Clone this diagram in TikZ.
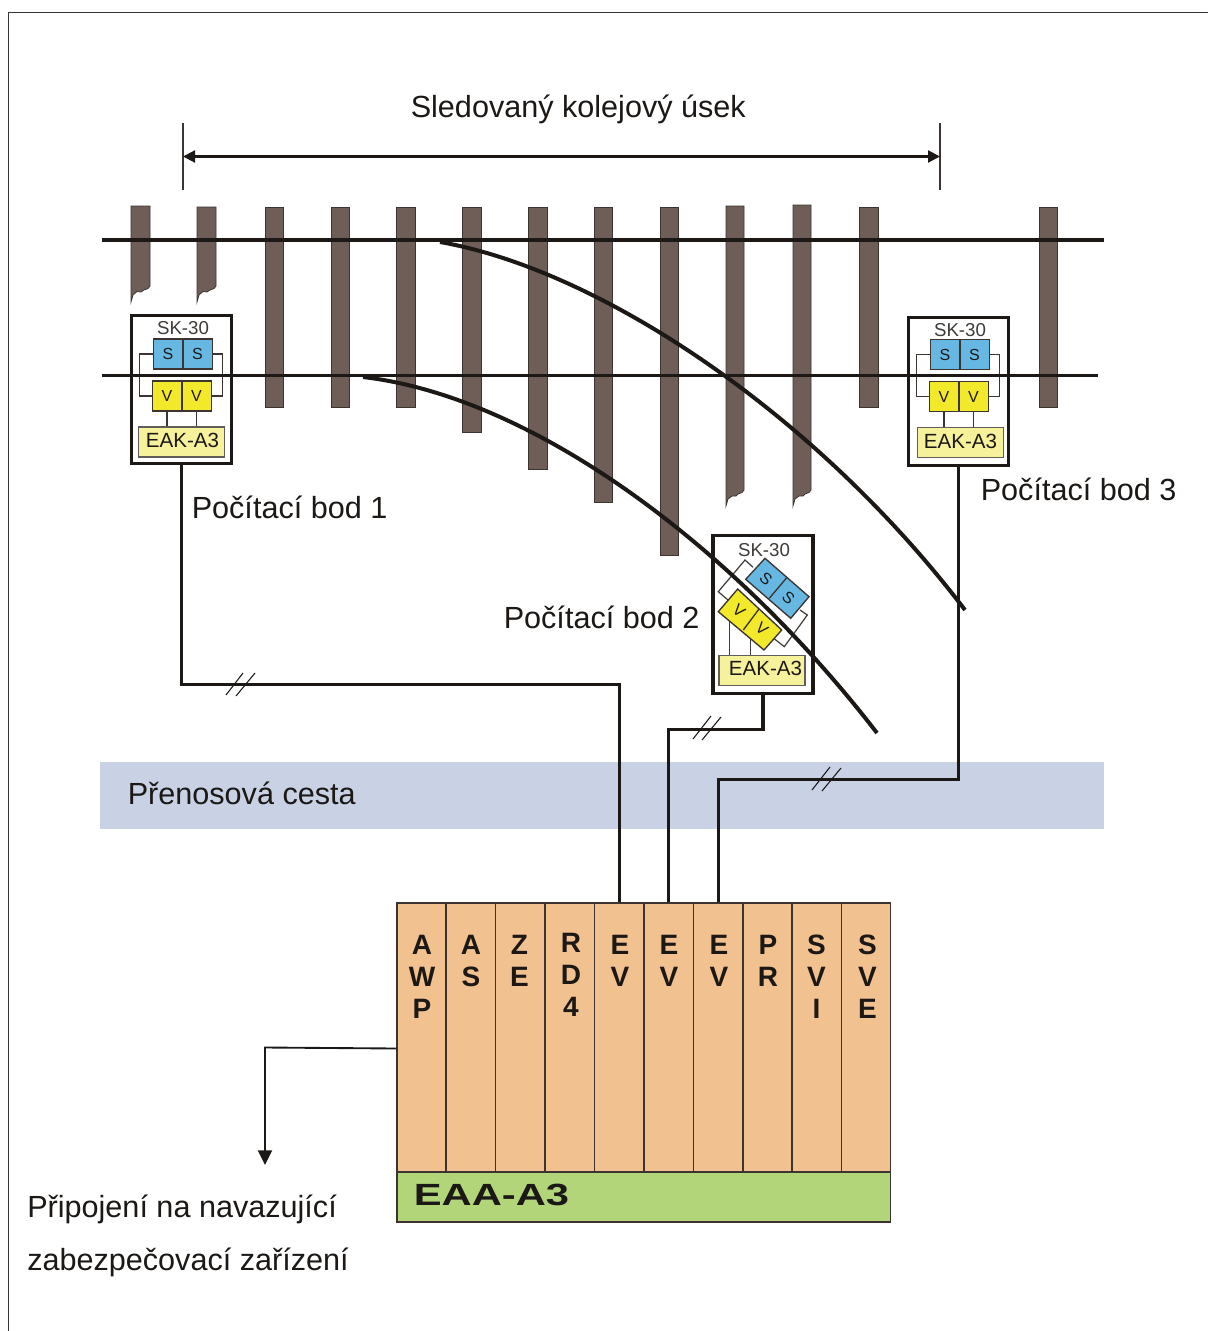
\documentclass[tikz,border=0pt]{standalone}
\usepackage{fontspec}
\setmainfont{Liberation Sans}
\usetikzlibrary{arrows.meta}
\definecolor{tiefill}{HTML}{6E5E57}
\definecolor{tieedge}{HTML}{3B3431}
\definecolor{ink}{HTML}{1C1815}
\definecolor{sblue}{HTML}{67B7E3}
\definecolor{vyellow}{HTML}{F1E92A}
\definecolor{eakyellow}{HTML}{F6F19B}
\definecolor{band}{HTML}{C9D2E5}
\definecolor{slotor}{HTML}{F2C190}
\definecolor{slotgr}{HTML}{B2D57A}
\tikzset{
  tie/.style={fill=tiefill,draw=tieedge,line width=0.6pt},
  rail/.style={draw=ink,line width=2.6pt},
  curverail/.style={draw=ink,line width=3pt},
  wire/.style={draw=ink,line width=2.3pt},
  thinwire/.style={draw=tieedge,line width=0.9pt},
  hatch/.style={draw=ink,line width=0.8pt},
  bigtext/.style={anchor=base west,inner sep=0pt,font=\fontsize{22.95}{26}\selectfont,text=ink},
  pointbox/.style={draw=ink,fill=white,line width=2.4pt,inner sep=0pt,minimum width=75pt,minimum height=111pt},
  smalltext/.style={inner sep=0pt,font=\fontsize{14}{16}\selectfont,text=ink!85},
  eaktext/.style={inner sep=0pt,font=\fontsize{15.4}{17}\selectfont,text=ink},
  cell/.style={draw=tieedge,line width=1pt,inner sep=0pt,minimum width=22pt,minimum height=22.5pt,font=\fontsize{12}{14}\selectfont,text=ink},
  eakbox/.style={draw=tieedge!80,fill=eakyellow,line width=0.9pt,inner sep=0pt},
  slot/.style={draw=tieedge,fill=slotor,line width=1pt,inner sep=0pt,minimum height=201.75pt},
  slotlabel/.style={anchor=north,inner sep=0pt,align=center,font=\fontsize{21}{24}\selectfont\bfseries,text=ink},
}
% #1,#2 shift of the cells, #3 prefix, #4 extra y of the frame, #5 extra x of the EAK box
\newcommand{\counterbox}[5]{%
  \begin{scope}[shift={(#1,#2)},name prefix=#3]
    \node[pointbox] (frame) at (181.5,{389.5+#4}) {};
    \node[smalltext] (title) at (183,{328.5+#4}) {SK-30};
    \node[cell,fill=sblue] (s1) at (168,354) {S};
    \node[cell,fill=sblue] (s2) at (197.5,354) {S};
    \node[cell,fill=vyellow] (v1) at (167,396) {V};
    \node[cell,fill=vyellow] (v2) at (196.5,396) {V};
    \node[eakbox,minimum width=65pt,minimum height=22.5pt] (eak) at ({181.5+#5},442) {};
    \node[eaktext] (eaklabel) at ({182.5+#5*0.5},440.5) {EAK-A3};
    \draw[thinwire] (s1.west) -- ++(-13,0) |- (v1.west);
    \draw[thinwire] (s2.east) -- ++(10,0) |- (v2.east);
    \draw[thinwire] (v1.south) -- (v1.south |- eak.north);
    \draw[thinwire] (v2.south) -- (v2.south |- eak.north);
  \end{scope}}
\begin{document}
\begin{tikzpicture}[x=0.75pt,y=-0.75pt]
\useasboundingbox (0,0) rectangle (1208,1331);
\fill[white] (0,0) rectangle (1208,1331);
% outer frame
\draw[draw=tieedge,line width=0.7pt] (8,1331) -- (8,12) -- (1208,12);

% measured section
\node[bigtext] (title) at (410.5,117.5) {Sledovaný kolejový úsek};
\coordinate (dimL) at (183,156.5);
\coordinate (dimR) at (940,156.5);
\draw[draw=tieedge,line width=0.9pt] (183,123) -- (183,190);
\draw[draw=tieedge,line width=0.9pt] (940,123) -- (940,190);
\draw[draw=ink,line width=1.6pt,{Triangle[length=9pt,width=9pt]}-{Triangle[length=9pt,width=9pt]}] (dimL) -- (dimR);

% sleepers with a torn end
\foreach \x/\t in {131/206,197/207}{
  \draw[tie] (\x,\t) -- (\x+19,\t) -- (\x+19,286) -- (\x+17,288.5) -- (\x+13,290) -- (\x+10,292) -- (\x+6,291.5) -- (\x+2,295) -- (\x,302) -- cycle;
}
\foreach \x/\t in {726/206,793/205}{
  \draw[tie] (\x,\t) -- (\x+18,\t) -- (\x+18,490) -- (\x+16,492.5) -- (\x+12,494) -- (\x+10,496) -- (\x+6,496) -- (\x+2,499) -- (\x,506) -- cycle;
}
% whole sleepers
\foreach \x/\b in {265/407.5,331/407.5,396.5/407.5,462.5/432.5,528.5/469.5,594/502.5,660/555.5,859.5/407.5,1039/407.5}{
  \draw[tie] (\x,207) rectangle (\x+18.5,\b);
}

% counting point boxes 1 and 3
\counterbox{0}{0}{pa}{0}{0}
\counterbox{777}{0.5}{pc}{1.5}{2}

% counting point 2
\node[pointbox,minimum height=118.5pt] (pbframe) at (763,614.5) {};
\node[smalltext] (pbtitle) at (764,550) {SK-30};
\draw[thinwire,draw=ink!85] (753,567.3) -- (745,560) -- (718.3,591.7) -- (730,601.7);
\draw[thinwire,draw=ink!85] (800,610) -- (807.3,615) -- (784.3,646.7) -- (773.3,638);
\draw[thinwire,draw=ink!85] (729.5,618) -- (729.5,656);
\draw[thinwire,draw=ink!85] (750.7,638) -- (750.7,656);
\draw[tieedge,fill=sblue,line width=1pt] (765,558.3) -- (809,596.7) -- (790.7,618.3) -- (745.7,579.3) -- cycle;
\draw[tieedge,line width=1pt] (786.7,577.7) -- (769.3,598.3);
\draw[tieedge,fill=vyellow,line width=1pt] (737.7,589) -- (781.7,630) -- (764,650) -- (718.3,611.7) -- cycle;
\draw[tieedge,line width=1pt] (759,609) -- (743.3,630);
\node[inner sep=0pt,rotate=-41,font=\fontsize{12}{14}\selectfont,text=ink] (bs1) at (766,578.5) {S};
\node[inner sep=0pt,rotate=-41,font=\fontsize{12}{14}\selectfont,text=ink] (bs2) at (788.5,598) {S};
\node[inner sep=0pt,rotate=-41,font=\fontsize{12}{14}\selectfont,text=ink] (bv1) at (739,610.5) {V};
\node[inner sep=0pt,rotate=-41,font=\fontsize{12}{14}\selectfont,text=ink] (bv2) at (762,628.5) {V};
\node[eakbox,minimum width=64.5pt,minimum height=22.8pt] (pbeak) at (762,670.3) {};
\node[eaktext] (pbeaklabel) at (765.5,668.5) {EAK-A3};

% rails
\draw[rail] (102,240) -- (1104,240);
\draw[rail] (102,375.5) -- (1098,375.5);
\draw[curverail] (440,242) .. controls (600,270) and (816,414) .. (965,610);
\draw[curverail] (363,377) .. controls (533,397) and (732,545) .. (877,733);

% labels of counting points
\node[bigtext] (lb1) at (191.5,518) {Počítací bod 1};
\node[bigtext] (lb2) at (503.5,628) {Počítací bod 2};
\node[bigtext] (lb3) at (980.5,500) {Počítací bod 3};

% transmission band
\fill[band] (100,762) rectangle (1104,829);
\node[bigtext] (path) at (127.5,804) {Přenosová cesta};

% EAA-A3 rack
\foreach \n/\l/\r in {a/397/446,b/446/495.5,c/495.5/545,d/545/594.5,e/594.5/644,f/644/693.5,g/693.5/743,h/743/792,i/792/841.5,j/841.5/890.5}{
  \node[slot,minimum width={(\r-\l)*0.75pt}] (slot\n) at ({(\l+\r)/2},1037.5) {};
}
\node[draw=tieedge,fill=slotgr,line width=1pt,inner sep=0pt,minimum width=370.1pt,minimum height=37.5pt] (base) at (643.75,1197) {};
\node[anchor=base west,inner sep=0pt,xscale=1.36,font=\fontsize{23}{26}\selectfont\bfseries,text=ink] (baselabel) at (413.5,1205) {EAA-A3};
\node[slotlabel] (la) at (422,935) {A\\W\\P};
\node[slotlabel] (lb) at (471,935) {A\\S};
\node[slotlabel] (lc) at (519.5,935) {Z\\E};
\node[slotlabel] (ld) at (571,933) {R\\D\\4};
\node[slotlabel] (le) at (620,935) {E\\V};
\node[slotlabel] (lf) at (669,935) {E\\V};
\node[slotlabel] (lg) at (719,935) {E\\V};
\node[slotlabel] (lh) at (768,935) {P\\R};
\node[slotlabel] (li) at (816.5,935) {S\\V\\I};
\node[slotlabel] (lj) at (867.5,935) {S\\V\\E};

% connections
\draw[wire] (paframe.south) -- ++(0,219) -| (slote.north);
\draw[wire] (pbframe.south) -- ++(0,34) -| (slotf.north);
\draw[wire] (pcframe.south) -- ++(0,312.5) -| (slotg.north);

% double hatch marks
\draw[hatch] (226,695) -- (243,673);
\draw[hatch] (236,696) -- (255,673);
\draw[hatch] (693,739) -- (711,716);
\draw[hatch] (702,740) -- (721,717);
\draw[hatch] (812,790) -- (830,767);
\draw[hatch] (822,791) -- (841,768);

% output
\coordinate (outEnd) at (265,1165);
\draw[draw=ink,line width=1.4pt,-{Triangle[length=11pt,width=10.5pt]}] (slota.west |- 0,1048.5) -- (265,1047.5) -- (outEnd);
\node[bigtext] (out1) at (27,1217) {Připojení na navazující};
\node[bigtext] (out2) at (27,1270) {zabezpečovací zařízení};
\end{tikzpicture}
\end{document}
